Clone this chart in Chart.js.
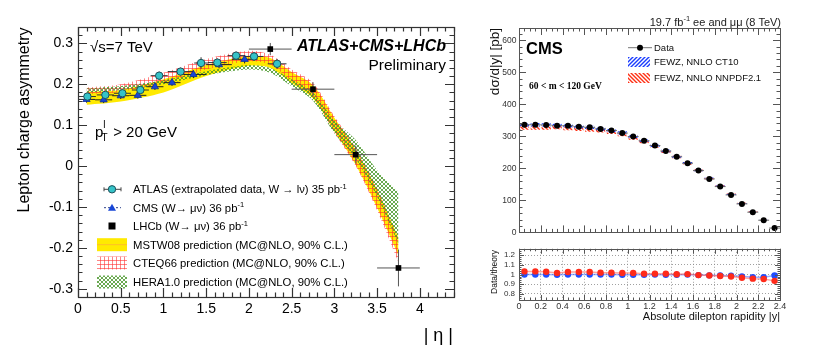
<!DOCTYPE html>
<html><head><meta charset="utf-8">
<script src="https://cdn.jsdelivr.net/npm/chart.js@4.4.1/dist/chart.umd.min.js"></script>
<style>
html,body{margin:0;padding:0;background:#fff;width:830px;height:363px;overflow:hidden}
.w{position:absolute}
canvas{display:block}
</style></head><body>
<div class="w" style="left:0;top:0"><canvas id="cL" width="470" height="363"></canvas></div>
<div class="w" style="left:470px;top:0"><canvas id="cR" width="360" height="240"></canvas></div>
<div class="w" style="left:470px;top:240px"><canvas id="cQ" width="360" height="123"></canvas></div>
<script>
// ================= LEFT PANEL DATA (lepton charge asymmetry) =================
const etaTicks  = [0, 0.5, 1, 1.5, 2, 2.5, 3, 3.5, 4];
const asymTicks = [-0.3, -0.2, -0.1, 0, 0.1, 0.2, 0.3];

const atlasEta     = [0.11, 0.32, 0.52, 0.73, 0.95, 1.20, 1.44, 1.63, 1.85, 2.06, 2.33];
const atlasEtaHalf = [0.10, 0.10, 0.10, 0.10, 0.10, 0.15, 0.08, 0.11, 0.10, 0.11, 0.11];
const atlasAsym    = [0.170, 0.174, 0.178, 0.186, 0.221, 0.231, 0.252, 0.253, 0.270, 0.268, 0.250];
const atlasErr     = [0.008, 0.008, 0.008, 0.009, 0.010, 0.009, 0.014, 0.010, 0.010, 0.011, 0.012];

const cmsEta     = [0.10, 0.30, 0.50, 0.70, 0.90, 1.10, 1.35, 1.65, 1.95];
const cmsEtaHalf = [0.10, 0.10, 0.10, 0.10, 0.10, 0.10, 0.15, 0.15, 0.15];
const cmsAsym    = [0.163, 0.162, 0.172, 0.173, 0.194, 0.204, 0.224, 0.248, 0.261];
const cmsErr     = [0.008, 0.008, 0.008, 0.008, 0.008, 0.008, 0.009, 0.009, 0.010];

const lhcbEta     = [2.25, 2.75, 3.25, 3.75];
const lhcbEtaHalf = [0.25, 0.25, 0.25, 0.25];
const lhcbAsym    = [0.286, 0.188, 0.028, -0.249];
const lhcbErr     = [0.015, 0.017, 0.022, 0.045];

const bandEta = [0.1, 0.5, 1.0, 1.5, 2.0, 2.25, 2.5, 2.75, 3.0, 3.25, 3.5, 3.75];
const mstwLo = [0.150, 0.158, 0.180, 0.220, 0.245, 0.240, 0.203, 0.165, 0.085, 0.003, -0.102, -0.218];
const mstwHi = [0.182, 0.186, 0.212, 0.247, 0.270, 0.264, 0.230, 0.198, 0.118, 0.040, -0.058, -0.175];
const cteqLo = [0.176, 0.182, 0.203, 0.236, 0.256, 0.248, 0.208, 0.168, 0.082, 0.000, -0.108, -0.235];
const cteqHi = [0.192, 0.200, 0.228, 0.262, 0.282, 0.272, 0.236, 0.204, 0.122, 0.045, -0.054, -0.180];
const heraLo = [0.180, 0.186, 0.200, 0.222, 0.236, 0.228, 0.195, 0.160, 0.080, 0.018, -0.075, -0.190];
const heraHi = [0.190, 0.196, 0.210, 0.232, 0.247, 0.240, 0.212, 0.180, 0.112, 0.064, -0.010, -0.063];

// ================= RIGHT PANEL DATA (CMS dsigma/d|y|) =================
const rapTicks   = [0, 0.2, 0.4, 0.6, 0.8, 1, 1.2, 1.4, 1.6, 1.8, 2, 2.2, 2.4];
const xsecTicks  = [0, 100, 200, 300, 400, 500, 600];
const ratioTicks = [0.8, 0.9, 1, 1.1, 1.2];
const rapBins = [0.05, 0.15, 0.25, 0.35, 0.45, 0.55, 0.65, 0.75, 0.85, 0.95, 1.05, 1.15,
                 1.25, 1.35, 1.45, 1.55, 1.65, 1.75, 1.85, 1.95, 2.05, 2.15, 2.25, 2.35];
const rapBinHalf = 0.05;
const xsecData = [336, 336, 335, 333, 333, 330, 328, 323, 318, 310, 299, 286,
                  271, 254, 236, 216, 193, 167, 143, 117, 89, 63, 38, 13.5];
const ratioCT10  = [1.000, 1.000, 1.000, 0.998, 1.000, 1.000, 1.000, 1.000, 1.000, 0.998, 0.998, 0.998,
                    1.000, 0.998, 0.998, 1.000, 0.995, 0.992, 0.990, 0.988, 0.982, 0.972, 0.972, 0.990];
const ratioNNPDF = [1.033, 1.033, 1.030, 1.017, 1.027, 1.027, 1.027, 1.020, 1.020, 1.017, 1.017, 1.010,
                    1.010, 1.010, 1.003, 1.005, 0.995, 0.990, 0.985, 0.980, 0.968, 0.958, 0.955, 0.935];
const theoryRelUnc = 0.016;

// ================= helpers =================
const FONT = "'Liberation Sans', Arial, Helvetica, sans-serif";
Chart.defaults.font.family = FONT;
Chart.defaults.color = '#000';
Chart.defaults.animation = false;

const xy = (xs, ys) => xs.map((x, i) => ({x, y: ys[i]}));

function makePattern(size, draw) {
  const c = document.createElement('canvas'); c.width = c.height = size;
  const g = c.getContext('2d'); draw(g, size);
  return g.createPattern(c, 'repeat');
}
const colYellow = 'rgb(255,234,0)';
const patRed = makePattern(4, g => { g.strokeStyle = 'rgba(255,50,50,0.6)'; g.lineWidth = 1;
  g.beginPath(); g.moveTo(0.5, 0); g.lineTo(0.5, 4); g.moveTo(0, 0.5); g.lineTo(4, 0.5); g.stroke(); });
const patGreen = makePattern(4, g => { g.strokeStyle = 'rgba(70,150,40,0.9)'; g.lineWidth = 0.9;
  g.beginPath(); g.moveTo(0, 0); g.lineTo(4, 4); g.moveTo(4, 0); g.lineTo(0, 4); g.stroke(); });
const hatch = (col, dir) => makePattern(4, g => { g.strokeStyle = col; g.lineWidth = 1.4; g.beginPath();
  if (dir > 0) { g.moveTo(0, 4); g.lineTo(4, 0); g.moveTo(-1, 1); g.lineTo(1, -1); g.moveTo(3, 5); g.lineTo(5, 3); }
  else { g.moveTo(0, 0); g.lineTo(4, 4); g.moveTo(-1, 3); g.lineTo(1, 5); g.moveTo(3, -1); g.lineTo(5, 1); }
  g.stroke(); });
const patBlue = hatch('#1a3cff', 1);
const patRedH = hatch('#ff3015', -1);

function rich(ctx, x, y, parts, align, color) {
  const ws = parts.map(p => { ctx.font = (p.w || '') + ' ' + p.s + 'px ' + (p.f || FONT); return ctx.measureText(p.t).width; });
  const total = ws.reduce((a, b) => a + b, 0);
  let cx = align === 'right' ? x - total : align === 'center' ? x - total / 2 : x;
  ctx.textAlign = 'left'; ctx.textBaseline = 'alphabetic'; ctx.fillStyle = color || '#000';
  parts.forEach((p, i) => { ctx.font = (p.w || '') + ' ' + p.s + 'px ' + (p.f || FONT); ctx.fillText(p.t, cx, y + (p.dy || 0)); cx += ws[i]; });
}
function rotText(ctx, x, y, text, font, align, color) {
  ctx.save(); ctx.translate(x, y); ctx.rotate(-Math.PI / 2);
  ctx.font = font; ctx.fillStyle = color || '#000'; ctx.textAlign = align; ctx.textBaseline = 'alphabetic';
  ctx.fillText(text, 0, 0); ctx.restore();
}

const errorBars = {
  id: 'errorBars',
  beforeDatasetDraw(chart, args) {
    const ds = chart.data.datasets[args.index];
    if (!ds.errX && !ds.errY) return;
    const {ctx} = chart; const xs = chart.scales.x, ys = chart.scales.y;
    ctx.save(); ctx.beginPath();
    ctx.strokeStyle = ds.errColor || '#333'; ctx.lineWidth = ds.errWidth || 1;
    ds.data.forEach((p, i) => {
      const px = xs.getPixelForValue(p.x), py = ys.getPixelForValue(p.y);
      if (ds.errX) { const h = Array.isArray(ds.errX) ? ds.errX[i] : ds.errX;
        ctx.moveTo(xs.getPixelForValue(p.x - h), py); ctx.lineTo(xs.getPixelForValue(p.x + h), py); }
      if (ds.errY) { const e = Array.isArray(ds.errY) ? ds.errY[i] : ds.errY;
        ctx.moveTo(px, ys.getPixelForValue(p.y - e)); ctx.lineTo(px, ys.getPixelForValue(p.y + e)); }
    });
    ctx.stroke(); ctx.restore();
  }
};

const rootFrame = {
  id: 'rootFrame',
  afterDatasetsDraw(chart, args, o) {
    if (!o || !o.x) return;
    const {ctx, chartArea: a} = chart; const xs = chart.scales.x, ys = chart.scales.y;
    ctx.save(); ctx.strokeStyle = o.color; ctx.lineWidth = o.width;
    ctx.beginPath();
    const run = (sc, t, horiz) => {
      const ratio = Math.round(t.major / t.minor);
      const k0 = Math.ceil(sc.min / t.minor - 1e-6), k1 = Math.floor(sc.max / t.minor + 1e-6);
      for (let k = k0; k <= k1; k++) {
        const v = k * t.minor; const len = (k % ratio === 0) ? t.majorLen : t.minorLen;
        const p = Math.round(sc.getPixelForValue(v)) + 0.5;
        if (horiz) { ctx.moveTo(p, a.bottom); ctx.lineTo(p, a.bottom - len);
          if (o.mirror) { ctx.moveTo(p, a.top); ctx.lineTo(p, a.top + len); } }
        else { ctx.moveTo(a.left, p); ctx.lineTo(a.left + len, p);
          if (o.mirror) { ctx.moveTo(a.right, p); ctx.lineTo(a.right - len, p); } }
      }
    };
    run(xs, o.x, true); run(ys, o.y, false);
    ctx.stroke();
    ctx.strokeRect(Math.round(a.left) + 0.5, Math.round(a.top) + 0.5, Math.round(a.right - a.left), Math.round(a.bottom - a.top));
    ctx.restore();
  }
};
Chart.register(errorBars, rootFrame);

const fixedTicks = arr => s => { s.ticks = arr.map(v => ({value: v})); };
const fmt = v => String(Math.round(v * 10) / 10);

function band(lo, hi, fillStyle, order) {
  return [
    {type: 'line', data: xy(bandEta, lo), borderColor: 'rgba(0,0,0,0)', pointRadius: 0, fill: false, tension: 0.3, order},
    {type: 'line', data: xy(bandEta, hi), borderColor: 'rgba(0,0,0,0)', pointRadius: 0, fill: '-1', backgroundColor: fillStyle, tension: 0.3, order}
  ];
}

// ================= LEFT CHART =================
const leftText = {
  id: 'leftText',
  afterDraw(chart) {
    const ctx = chart.ctx;
    rotText(ctx, 28.5, 120, 'Lepton charge asymmetry', '16px ' + FONT, 'center');
    rich(ctx, 453, 341, [{t: '| η |', s: 18}], 'right');
    rich(ctx, 90, 52, [{t: '√s=7 TeV', s: 15}], 'left');
    rich(ctx, 446, 50.5, [{t: 'ATLAS+CMS+LHCb', s: 16, w: 'italic bold'}], 'right');
    rich(ctx, 446, 69.5, [{t: 'Preliminary', s: 15.5}], 'right');
    rich(ctx, 95, 136.5, [{t: 'p', s: 15}, {t: 'l', s: 10, dy: -9}], 'left');
    rich(ctx, 101.5, 141, [{t: 'T', s: 10}], 'left');
    rich(ctx, 109, 136.5, [{t: ' > 20 GeV', s: 15}], 'left');

    // legend
    const lx = 133, mx = 112, fs = 11.3;
    const ys = [189.3, 207.7, 226, 244.7, 263, 282];
    ctx.save();
    ctx.strokeStyle = '#444'; ctx.lineWidth = 1; ctx.beginPath();
    ctx.moveTo(104, ys[0]); ctx.lineTo(121, ys[0]); ctx.moveTo(104, ys[0] - 2); ctx.lineTo(104, ys[0] + 2);
    ctx.moveTo(121, ys[0] - 2); ctx.lineTo(121, ys[0] + 2); ctx.stroke();
    ctx.beginPath(); ctx.arc(mx, ys[0], 3.7, 0, Math.PI * 2); ctx.fillStyle = '#35c3c8'; ctx.fill();
    ctx.strokeStyle = '#1d4f5a'; ctx.stroke();
    ctx.setLineDash([2, 2]); ctx.strokeStyle = '#2a3f8a'; ctx.beginPath();
    ctx.moveTo(104, ys[1]); ctx.lineTo(121, ys[1]); ctx.stroke(); ctx.setLineDash([]);
    ctx.beginPath(); ctx.moveTo(mx, ys[1] - 4); ctx.lineTo(mx + 4, ys[1] + 3); ctx.lineTo(mx - 4, ys[1] + 3); ctx.closePath();
    ctx.fillStyle = '#1746d6'; ctx.fill();
    ctx.fillStyle = '#000'; ctx.fillRect(mx - 3.5, ys[2] - 3.5, 7, 7);
    ctx.fillStyle = colYellow; ctx.fillRect(97, ys[3] - 6.5, 30, 13);
    ctx.strokeStyle = 'rgb(255,190,40)'; ctx.lineWidth = 1; ctx.beginPath(); ctx.moveTo(97, ys[3]); ctx.lineTo(127, ys[3]); ctx.stroke();
    ctx.fillStyle = patRed; ctx.fillRect(97, ys[4] - 6.5, 30, 13);
    ctx.fillStyle = patGreen; ctx.fillRect(97, ys[5] - 6.5, 30, 13);
    ctx.restore();
    const sup = {t: '-1', s: 7.5, dy: -4.5};
    rich(ctx, lx, ys[0] + 4, [{t: 'ATLAS (extrapolated data, W \u2192 l\u03bd) 35 pb', s: fs}, sup]);
    rich(ctx, lx, ys[1] + 4, [{t: 'CMS (W\u2192 \u03bc\u03bd) 36 pb', s: fs}, sup]);
    rich(ctx, lx, ys[2] + 4, [{t: 'LHCb (W\u2192 \u03bc\u03bd) 36 pb', s: fs}, sup]);
    rich(ctx, lx, ys[3] + 4, [{t: 'MSTW08 prediction (MC@NLO, 90% C.L.)', s: fs}]);
    rich(ctx, lx, ys[4] + 4, [{t: 'CTEQ66 prediction (MC@NLO, 90% C.L.)', s: fs}]);
    rich(ctx, lx, ys[5] + 4, [{t: 'HERA1.0 prediction (MC@NLO, 90% C.L.)', s: fs}]);
  }
};

new Chart(document.getElementById('cL'), {
  type: 'line',
  data: {datasets: [
    {type: 'line', label: 'ATLAS', data: xy(atlasEta, atlasAsym), showLine: false, pointStyle: 'circle', pointRadius: 3.7,
     pointBackgroundColor: '#35c3c8', pointBorderColor: '#1d4f5a', pointBorderWidth: 1, errX: atlasEtaHalf, errY: atlasErr, errColor: '#333', order: 0},
    {type: 'line', label: 'CMS', data: xy(cmsEta, cmsAsym), showLine: false, pointStyle: 'triangle', pointRadius: 4.2,
     pointBackgroundColor: '#1746d6', pointBorderColor: '#0f2f99', pointBorderWidth: 0.8, errX: cmsEtaHalf, errY: cmsErr, errColor: '#222', order: 0},
    {type: 'line', label: 'LHCb', data: xy(lhcbEta, lhcbAsym), showLine: false, pointStyle: 'rect', pointRadius: 4,
     pointBackgroundColor: '#000', pointBorderColor: '#000', pointBorderWidth: 0, errX: lhcbEtaHalf, errY: lhcbErr, errColor: '#555', order: 0},
    ...band(heraLo, heraHi, patGreen, 1),
    ...band(cteqLo, cteqHi, patRed, 2),
    ...band(mstwLo, mstwHi, colYellow, 3)
  ]},
  options: {
    responsive: false, animation: false, events: [],
    layout: {padding: {left: 0, top: 27, right: 16, bottom: 0}},
    plugins: {legend: {display: false}, tooltip: {enabled: false},
      rootFrame: {color: '#333', width: 1.2, mirror: true,
        x: {minor: 0.1, major: 0.5, majorLen: 9, minorLen: 4.5},
        y: {minor: 0.02, major: 0.1, majorLen: 9, minorLen: 4.5}}},
    scales: {
      x: {type: 'linear', min: 0, max: 4.4, afterBuildTicks: fixedTicks(etaTicks), afterFit: s => { s.height = 66; },
          grid: {display: false, drawTicks: false}, border: {display: false},
          ticks: {font: {size: 14}, color: '#000', padding: 4, maxRotation: 0, autoSkip: false, callback: v => fmt(v)}},
      y: {type: 'linear', min: -0.32, max: 0.34, afterBuildTicks: fixedTicks(asymTicks), afterFit: s => { s.width = 78; },
          grid: {display: false, drawTicks: false}, border: {display: false},
          ticks: {font: {size: 14}, color: '#000', padding: 5, autoSkip: false, callback: v => fmt(v)}}
    }
  },
  plugins: [leftText]
});

// ================= RIGHT MAIN CHART =================
const ct10Theory  = xsecData.map((d, i) => d / ratioCT10[i]);
const nnpdfTheory = xsecData.map((d, i) => d / ratioNNPDF[i]);
const bandBars = th => rapBins.map((x, i) => ({x, y: [th[i] * (1 - theoryRelUnc), th[i] * (1 + theoryRelUnc)]}));

const rightText = {
  id: 'rightText',
  afterDraw(chart) {
    const ctx = chart.ctx;
    rich(ctx, 311, 25.5, [{t: '19.7 fb', s: 11}, {t: '-1', s: 7.5, dy: -4.5}, {t: ' ee and \u03bc\u03bc (8 TeV)', s: 11}], 'right', '#222');
    rich(ctx, 56, 54, [{t: 'CMS', s: 16.5, w: 'bold'}], 'left');
    rich(ctx, 59, 88.5, [{t: '60 < m < 120 GeV', s: 9.5, w: 'bold', f: "'Liberation Serif', 'Times New Roman', serif"}], 'left');
    rotText(ctx, 28.5, 28, 'd\u03c3/d|y| [pb]', '13.5px ' + FONT, 'right', '#111');
    ctx.save();
    ctx.strokeStyle = '#777'; ctx.lineWidth = 1; ctx.beginPath(); ctx.moveTo(158, 47.7); ctx.lineTo(182, 47.7); ctx.stroke();
    ctx.beginPath(); ctx.arc(170, 47.7, 3, 0, Math.PI * 2); ctx.fillStyle = '#000'; ctx.fill();
    ctx.fillStyle = patBlue; ctx.fillRect(158, 57, 22, 10);
    ctx.fillStyle = patRedH; ctx.fillRect(158, 73, 22, 10);
    ctx.restore();
    rich(ctx, 184, 51, [{t: 'Data', s: 9.5}], 'left', '#111');
    rich(ctx, 184, 65.2, [{t: 'FEWZ, NNLO CT10', s: 9.5}], 'left', '#111');
    rich(ctx, 184, 81.2, [{t: 'FEWZ, NNLO NNPDF2.1', s: 9.5}], 'left', '#111');
  }
};

new Chart(document.getElementById('cR'), {
  type: 'line',
  data: {datasets: [
    {type: 'line', label: 'Data', data: xy(rapBins, xsecData), showLine: false, pointStyle: 'circle', pointRadius: 3,
     pointBackgroundColor: '#000', pointBorderWidth: 0, errX: rapBinHalf, errColor: '#666', order: 0},
    {type: 'bar', label: 'CT10', data: bandBars(ct10Theory), backgroundColor: patBlue, borderWidth: 0,
     barPercentage: 0.85, categoryPercentage: 1, grouped: false, order: 1},
    {type: 'bar', label: 'NNPDF', data: bandBars(nnpdfTheory), backgroundColor: patRedH, borderWidth: 0,
     barPercentage: 0.85, categoryPercentage: 1, grouped: false, order: 2}
  ]},
  options: {
    responsive: false, animation: false, events: [],
    layout: {padding: {left: 0, top: 28, right: 50, bottom: 3}},
    plugins: {legend: {display: false}, tooltip: {enabled: false},
      rootFrame: {color: '#555', width: 1, mirror: true,
        x: {minor: 0.05, major: 0.2, majorLen: 7, minorLen: 3.5},
        y: {minor: 20, major: 100, majorLen: 7, minorLen: 3.5}}},
    scales: {
      x: {type: 'linear', min: 0, max: 2.4, display: false, offset: false},
      y: {type: 'linear', min: 0, max: 638, afterBuildTicks: fixedTicks(xsecTicks), afterFit: s => { s.width = 49; },
          grid: {display: false, drawTicks: false}, border: {display: false},
          ticks: {font: {size: 8.5}, color: '#333', padding: 2.5, autoSkip: false}}
    }
  },
  plugins: [rightText]
});

// ================= RATIO CHART =================
const ratioText = {
  id: 'ratioText',
  afterDraw(chart) {
    const ctx = chart.ctx;
    rotText(ctx, 27, 10, 'Data/theory', '8.5px ' + FONT, 'right', '#111');
    rich(ctx, 310, 80, [{t: 'Absolute dilepton rapidity |y|', s: 11}], 'right', '#111');
  }
};

new Chart(document.getElementById('cQ'), {
  type: 'line',
  data: {datasets: [
    {type: 'line', label: 'NNPDF', data: xy(rapBins, ratioNNPDF), borderColor: 'rgba(255,90,80,0.55)', borderWidth: 1.5,
     pointRadius: 3.2, pointBackgroundColor: '#ff2a1a', pointBorderWidth: 0, tension: 0, order: 0},
    {type: 'line', label: 'CT10', data: xy(rapBins, ratioCT10), borderColor: 'rgba(70,110,255,0.55)', borderWidth: 1.5,
     pointRadius: 3.2, pointBackgroundColor: '#1f4cff', pointBorderWidth: 0, tension: 0, order: 1}
  ]},
  options: {
    responsive: false, animation: false, events: [],
    layout: {padding: {left: 0, top: 7, right: 50, bottom: 0}},
    plugins: {legend: {display: false}, tooltip: {enabled: false},
      rootFrame: {color: '#555', width: 1, mirror: true,
        x: {minor: 0.05, major: 0.2, majorLen: 5, minorLen: 2.5},
        y: {minor: 0.02, major: 0.1, majorLen: 5, minorLen: 2.5}}},
    scales: {
      x: {type: 'linear', min: 0, max: 2.4, afterBuildTicks: fixedTicks(rapTicks), afterFit: s => { s.height = 63; },
          grid: {display: true, drawTicks: false, color: '#888', lineWidth: 0.8}, border: {display: false, dash: [1, 2]},
          ticks: {font: {size: 9}, color: '#333', padding: 1.5, maxRotation: 0, autoSkip: false, callback: v => fmt(v)}},
      y: {type: 'linear', min: 0.737, max: 1.267, afterBuildTicks: fixedTicks(ratioTicks), afterFit: s => { s.width = 49; },
          grid: {display: true, drawTicks: false, color: '#888', lineWidth: 0.8}, border: {display: false, dash: [1, 2]},
          ticks: {font: {size: 8}, color: '#333', padding: 4, autoSkip: false, callback: v => fmt(v)}}
    }
  },
  plugins: [ratioText]
});
</script>
</body></html>
